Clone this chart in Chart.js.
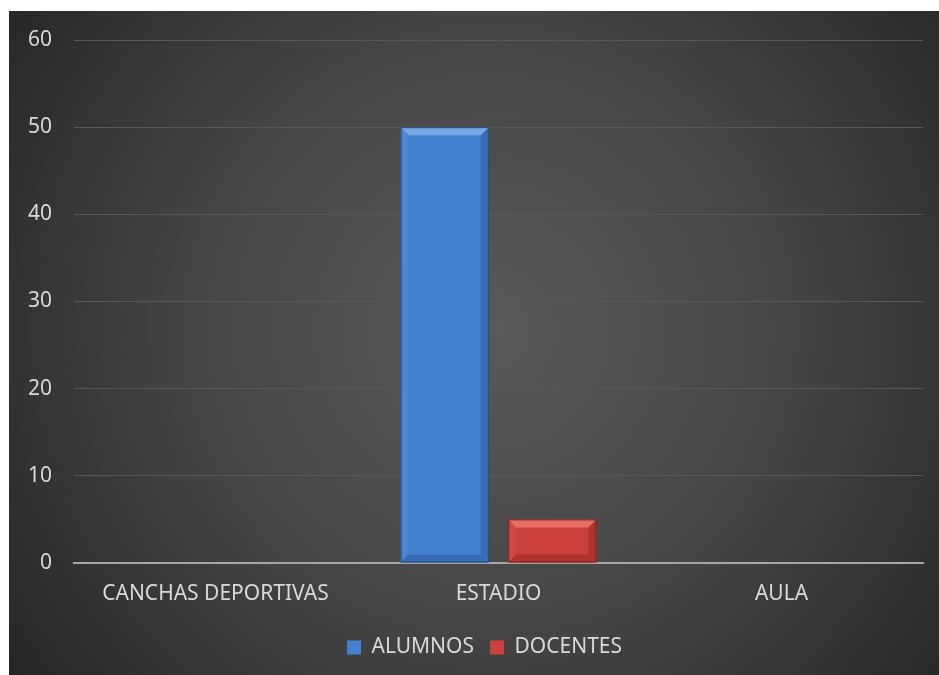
<!DOCTYPE html>
<html><head><meta charset="utf-8">
<script src="https://cdn.jsdelivr.net/npm/chart.js@4.4.1/dist/chart.umd.min.js"></script>
<style>html,body{margin:0;padding:0;background:#fff;}#wrap{width:939px;height:675px;position:relative;}</style>
</head><body><div id="wrap"><canvas id="c" width="939" height="675"></canvas></div>
<script>
const categories = ["CANCHAS DEPORTIVAS", "ESTADIO", "AULA"];
const alumnos = [0, 50, 0];
const docentes = [0, 5, 0];
const yTicks = [0, 10, 20, 30, 40, 50, 60];

const FONT = "'Noto Sans', sans-serif";
const TXT = '#d9d9d9';
const FS = 21;

const bgPlugin = {
  id: 'bg',
  beforeDraw(chart) {
    const ctx = chart.ctx;
    ctx.save();
    ctx.fillStyle = '#ffffff';
    ctx.fillRect(0, 0, chart.width, chart.height);
    const x0 = 9, y0 = 11, x1 = chart.width, y1 = chart.height;
    const g = ctx.createRadialGradient(490, 330, 0, 490, 330, 620);
    g.addColorStop(0, '#595959');
    g.addColorStop(0.45, '#474747');
    g.addColorStop(1, '#232323');
    ctx.fillStyle = g;
    ctx.fillRect(x0, y0, x1 - x0, y1 - y0);
    ctx.restore();
  }
};

const legendShift = {
  id: 'legendShift',
  afterLayout(chart) {
    const lg = chart.legend;
    if (lg) { lg.left += 23; lg.right += 23; }
  }
};

const bevelPlugin = {
  id: 'bevel',
  afterDatasetsDraw(chart) {
    const ctx = chart.ctx;
    chart.data.datasets.forEach((ds, di) => {
      const meta = chart.getDatasetMeta(di);
      meta.data.forEach((bar, i) => {
        const v = ds.data[i];
        if (!v) return;
        const l = bar.x - bar.width / 2, r = bar.x + bar.width / 2;
        const t = bar.y, b = bar.base;
        const d = 8;
        ctx.save();
        ctx.fillStyle = ds.bevelTop;
        ctx.beginPath();
        ctx.moveTo(l, t); ctx.lineTo(r, t); ctx.lineTo(r - d, t + d); ctx.lineTo(l + d, t + d); ctx.closePath(); ctx.fill();
        ctx.fillStyle = ds.bevelSide;
        ctx.beginPath();
        ctx.moveTo(l, t); ctx.lineTo(l + d, t + d); ctx.lineTo(l + d, b - d); ctx.lineTo(l, b); ctx.closePath(); ctx.fill();
        ctx.fillStyle = ds.bevelDark;
        ctx.beginPath();
        ctx.moveTo(r, t); ctx.lineTo(r - d, t + d); ctx.lineTo(r - d, b - d); ctx.lineTo(r, b); ctx.closePath(); ctx.fill();
        ctx.beginPath();
        ctx.moveTo(l, b); ctx.lineTo(l + d, b - d); ctx.lineTo(r - d, b - d); ctx.lineTo(r, b); ctx.closePath(); ctx.fill();
        ctx.strokeStyle = ds.edge; ctx.lineWidth = 1;
        ctx.strokeRect(l + 0.5, t + 0.5, bar.width - 1, b - t - 1);
        ctx.restore();
      });
    });
  }
};

new Chart(document.getElementById('c'), {
  type: 'bar',
  data: {
    labels: categories,
    datasets: [
      { label: 'ALUMNOS', data: alumnos, backgroundColor: '#4581d1', borderWidth: 0,
        bevelTop: 'rgba(140,185,240,0.7)', bevelSide: 'rgba(90,140,215,0.35)', bevelDark: 'rgba(30,70,130,0.35)', edge: '#26497a' },
      { label: 'DOCENTES', data: docentes, backgroundColor: '#cc403e', borderWidth: 0,
        bevelTop: 'rgba(245,130,125,0.7)', bevelSide: 'rgba(220,90,88,0.35)', bevelDark: 'rgba(120,25,25,0.35)', edge: '#7a2422' }
    ]
  },
  options: {
    responsive: false,
    animation: false,
    devicePixelRatio: 1,
    layout: { padding: { left: 0, right: 16, top: 40, bottom: 7 } },
    datasets: { bar: { categoryPercentage: 0.76, barPercentage: 0.82 } },
    plugins: {
      legend: {
        position: 'bottom',
        labels: { color: TXT, font: { family: FONT, size: FS }, boxWidth: 14, boxHeight: 14, padding: 16 },
        onClick: null
      },
      tooltip: { enabled: false }
    },
    scales: {
      x: {
        grid: { display: false, drawTicks: false },
        border: { display: true, color: '#a6a6a6', width: 2 },
        ticks: { color: TXT, font: { family: FONT, size: FS }, padding: 18, maxRotation: 0 },
        afterFit(s) { s.height = 58; }
      },
      y: {
        min: 0, max: 60,
        afterBuildTicks(s) { s.ticks = yTicks.map(v => ({ value: v })); },
        grid: { color: '#585858', lineWidth: 1, drawTicks: false },
        border: { display: false },
        ticks: { color: TXT, font: { family: FONT, size: FS }, padding: 22 },
        afterFit(s) { s.width = 74; }
      }
    }
  },
  plugins: [bgPlugin, legendShift, bevelPlugin]
});
</script></body></html>
